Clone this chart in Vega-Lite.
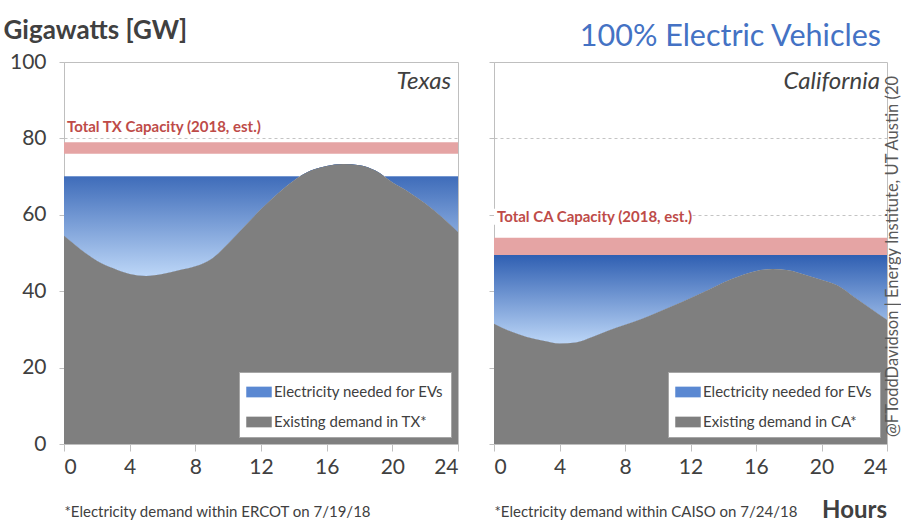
{
  "$schema": "https://vega.github.io/schema/vega-lite/v6.json",
  "background": "white",
  "padding": {"left": 2, "top": 16, "right": 0, "bottom": 0},
  "config": {
    "font": "Lato",
    "view": {"stroke": "#bfbfbf", "strokeWidth": 1},
    "axis": {"domainColor": "#bfbfbf", "tickColor": "#bfbfbf", "labelColor": "#404040", "labelFont": "Lato", "labelFontSize": 21, "titleFont": "Lato", "titleColor": "#404040", "titleFontWeight": "normal"},
    "legend": {"orient": "bottom-right", "offset": 7, "fillColor": "white", "strokeColor": "#a6a6a6", "padding": 7, "labelFontSize": 15, "labelLimit": 400, "labelColor": "#404040", "labelFont": "Lato", "symbolType": "M-1,-0.42H1V0.42H-1Z", "symbolSize": 650, "symbolStrokeWidth": 0, "symbolOpacity": 1, "rowPadding": 9, "labelOffset": 2}
  },
  "datasets": {
    "tx": [
      {"hour": 0, "demand": 54.5, "ev": 70}, {"hour": 1, "demand": 51, "ev": 70}, {"hour": 2, "demand": 48, "ev": 70},
      {"hour": 3, "demand": 46, "ev": 70}, {"hour": 4, "demand": 44.5, "ev": 70}, {"hour": 5, "demand": 44, "ev": 70},
      {"hour": 6, "demand": 44.5, "ev": 70}, {"hour": 7, "demand": 45.5, "ev": 70}, {"hour": 8, "demand": 46.5, "ev": 70},
      {"hour": 9, "demand": 48.5, "ev": 70}, {"hour": 10, "demand": 52.5, "ev": 70}, {"hour": 11, "demand": 57, "ev": 70},
      {"hour": 12, "demand": 61.5, "ev": 70}, {"hour": 13, "demand": 65.5, "ev": 70}, {"hour": 14, "demand": 69, "ev": 70},
      {"hour": 15, "demand": 71.5, "ev": 70}, {"hour": 16, "demand": 72.8, "ev": 70}, {"hour": 17, "demand": 73.3, "ev": 70},
      {"hour": 18, "demand": 73, "ev": 70}, {"hour": 19, "demand": 71.5, "ev": 70}, {"hour": 20, "demand": 68.5, "ev": 70},
      {"hour": 21, "demand": 66, "ev": 70}, {"hour": 22, "demand": 63, "ev": 70}, {"hour": 23, "demand": 59.5, "ev": 70},
      {"hour": 24, "demand": 55.5, "ev": 70}
    ],
    "ca": [
      {"hour": 0, "demand": 31.5, "ev": 49.5}, {"hour": 1, "demand": 29.5, "ev": 49.5}, {"hour": 2, "demand": 28, "ev": 49.5},
      {"hour": 3, "demand": 27, "ev": 49.5}, {"hour": 4, "demand": 26.3, "ev": 49.5}, {"hour": 5, "demand": 26.6, "ev": 49.5},
      {"hour": 6, "demand": 28, "ev": 49.5}, {"hour": 7, "demand": 29.7, "ev": 49.5}, {"hour": 8, "demand": 31.2, "ev": 49.5},
      {"hour": 9, "demand": 32.7, "ev": 49.5}, {"hour": 10, "demand": 34.5, "ev": 49.5}, {"hour": 11, "demand": 36.3, "ev": 49.5},
      {"hour": 12, "demand": 38.2, "ev": 49.5}, {"hour": 13, "demand": 40.2, "ev": 49.5}, {"hour": 14, "demand": 42.3, "ev": 49.5},
      {"hour": 15, "demand": 44, "ev": 49.5}, {"hour": 16, "demand": 45.3, "ev": 49.5}, {"hour": 17, "demand": 45.8, "ev": 49.5},
      {"hour": 18, "demand": 45.5, "ev": 49.5}, {"hour": 19, "demand": 44.3, "ev": 49.5}, {"hour": 20, "demand": 43, "ev": 49.5},
      {"hour": 21, "demand": 41.5, "ev": 49.5}, {"hour": 22, "demand": 38.5, "ev": 49.5}, {"hour": 23, "demand": 35.5, "ev": 49.5},
      {"hour": 24, "demand": 32.5, "ev": 49.5}
    ]
  },
  "spacing": 36,
  "bounds": "flush",
  "resolve": {"scale": {"color": "independent", "x": "independent", "y": "independent"}, "legend": {"color": "independent"}},
  "hconcat": [
    {
      "width": 394,
      "height": 382,
      "layer": [
        {
          "data": {"name": "tx"},
          "mark": {"type": "area", "interpolate": "monotone"},
          "encoding": {
            "x": {"field": "hour", "type": "quantitative", "scale": {"domain": [0, 24], "nice": false},
              "axis": {"values": [0, 2, 4, 6, 8, 10, 12, 14, 16, 18, 20, 22, 24], "labelExpr": "datum.value % 4 === 0 ? datum.label : ''", "grid": false, "tickSize": 7, "labelPadding": 5, "title": "*Electricity demand within ERCOT on 7/19/18", "titleAnchor": "start", "titleAlign": "left", "titleFontSize": 15, "titlePadding": 27}},
            "y": {"field": "ev", "type": "quantitative", "stack": null, "scale": {"domain": [0, 100], "nice": false},
              "axis": {"values": [0, 10, 20, 30, 40, 50, 60, 70, 80, 90, 100], "labelExpr": "datum.value % 20 === 0 ? datum.label : ''", "grid": true, "gridDash": [3, 3], "gridColor": "#c4c4c4", "gridOpacity": {"condition": {"test": "datum.value === 100 || datum.value === 0", "value": 0}, "value": 1}, "tickSize": 5, "labelPadding": 13, "title": "Gigawatts [GW]", "titleAngle": 0, "titleAlign": "left", "titleBaseline": "alphabetic", "titleX": -61, "titleY": -24, "titleFontSize": 26, "titleFontWeight": "bold", "titleColor": "#404040"}},
            "y2": {"field": "demand"},
            "color": {"datum": "Electricity needed for EVs", "type": "nominal",
              "scale": {"domain": ["Electricity needed for EVs", "Existing demand in TX*"], "range": ["#5a88d2", "#7f7f7f"]},
              "legend": {"title": null}}
          }
        },
        {
          "data": {"name": "tx"},
          "mark": {"type": "area", "interpolate": "monotone", "color": {"gradient": "linear", "x1": 0, "y1": 0, "x2": 0, "y2": 1, "stops": [{"offset": 0, "color": "#2f5fb2"}, {"offset": 1, "color": "#bcd6f7"}]}},
          "encoding": {
            "x": {"field": "hour", "type": "quantitative"},
            "y": {"field": "ev", "type": "quantitative", "stack": null},
            "y2": {"field": "demand"}
          }
        },
        {
          "data": {"name": "tx"},
          "mark": {"type": "area", "interpolate": "monotone"},
          "encoding": {
            "x": {"field": "hour", "type": "quantitative"},
            "y": {"field": "demand", "type": "quantitative", "stack": null},
            "color": {"datum": "Existing demand in TX*", "type": "nominal"}
          }
        },
        {
          "data": {"values": [{"start": 0, "end": 24, "lo": 76, "hi": 79}]},
          "mark": {"type": "rect", "color": "#e5a4a4"},
          "encoding": {
            "x": {"field": "start", "type": "quantitative"}, "x2": {"field": "end"},
            "y": {"field": "lo", "type": "quantitative"}, "y2": {"field": "hi"}
          }
        },
        {
          "data": {"values": [{"hour": 0, "gw": 83, "label": "Total TX Capacity (2018, est.)"}]},
          "mark": {"type": "text", "align": "left", "baseline": "middle", "dx": 3, "fontWeight": "bold", "fontSize": 15, "color": "#be4b48"},
          "encoding": {"x": {"field": "hour", "type": "quantitative"}, "y": {"field": "gw", "type": "quantitative"}, "text": {"field": "label"}}
        },
        {
          "data": {"values": [{"hour": 24, "gw": 100, "label": "Texas"}]},
          "mark": {"type": "text", "align": "right", "baseline": "middle", "dx": -7, "dy": 20, "fontStyle": "italic", "fontSize": 24, "color": "#404040"},
          "encoding": {"x": {"field": "hour", "type": "quantitative"}, "y": {"field": "gw", "type": "quantitative"}, "text": {"field": "label"}}
        }
      ]
    },
    {
      "width": 393,
      "height": 382,
      "layer": [
        {
          "data": {"name": "ca"},
          "mark": {"type": "area", "interpolate": "monotone"},
          "encoding": {
            "x": {"field": "hour", "type": "quantitative", "scale": {"domain": [0, 24], "nice": false},
              "axis": {"values": [0, 2, 4, 6, 8, 10, 12, 14, 16, 18, 20, 22, 24], "labelExpr": "datum.value % 4 === 0 ? datum.label : ''", "grid": false, "tickSize": 7, "labelPadding": 5, "title": "*Electricity demand within CAISO on 7/24/18", "titleAnchor": "start", "titleAlign": "left", "titleFontSize": 15, "titlePadding": 27}},
            "y": {"field": "ev", "type": "quantitative", "stack": null, "scale": {"domain": [0, 100], "nice": false},
              "axis": {"values": [0, 10, 20, 30, 40, 50, 60, 70, 80, 90, 100], "labels": false, "grid": true, "gridDash": [3, 3], "gridColor": "#c4c4c4", "gridOpacity": {"condition": {"test": "datum.value === 100 || datum.value === 0", "value": 0}, "value": 1}, "tickSize": 5, "title": null}},
            "y2": {"field": "demand"},
            "color": {"datum": "Electricity needed for EVs", "type": "nominal",
              "scale": {"domain": ["Electricity needed for EVs", "Existing demand in CA*"], "range": ["#5a88d2", "#7f7f7f"]},
              "legend": {"title": null}}
          }
        },
        {
          "data": {"name": "ca"},
          "mark": {"type": "area", "interpolate": "monotone", "color": {"gradient": "linear", "x1": 0, "y1": 0, "x2": 0, "y2": 1, "stops": [{"offset": 0, "color": "#2f5fb2"}, {"offset": 1, "color": "#bcd6f7"}]}},
          "encoding": {
            "x": {"field": "hour", "type": "quantitative"},
            "y": {"field": "ev", "type": "quantitative", "stack": null},
            "y2": {"field": "demand"}
          }
        },
        {
          "data": {"name": "ca"},
          "mark": {"type": "area", "interpolate": "monotone"},
          "encoding": {
            "x": {"field": "hour", "type": "quantitative"},
            "y": {"field": "demand", "type": "quantitative", "stack": null},
            "color": {"datum": "Existing demand in CA*", "type": "nominal"}
          }
        },
        {
          "data": {"values": [{"start": 0, "end": 24, "lo": 49.5, "hi": 54}]},
          "mark": {"type": "rect", "color": "#e5a4a4"},
          "encoding": {
            "x": {"field": "start", "type": "quantitative"}, "x2": {"field": "end"},
            "y": {"field": "lo", "type": "quantitative"}, "y2": {"field": "hi"}
          }
        },
        {
          "data": {"values": [{"start": 0, "end": 12.1, "lo": 57.4, "hi": 61.6}]},
          "mark": {"type": "rect", "color": "white"},
          "encoding": {
            "x": {"field": "start", "type": "quantitative"}, "x2": {"field": "end"},
            "y": {"field": "lo", "type": "quantitative"}, "y2": {"field": "hi"}
          }
        },
        {
          "data": {"values": [{"hour": 0, "gw": 59.4, "label": "Total CA Capacity (2018, est.)"}]},
          "mark": {"type": "text", "align": "left", "baseline": "middle", "dx": 3, "fontWeight": "bold", "fontSize": 15, "color": "#be4b48"},
          "encoding": {"x": {"field": "hour", "type": "quantitative"}, "y": {"field": "gw", "type": "quantitative"}, "text": {"field": "label"}}
        },
        {
          "data": {"values": [{"hour": 24, "gw": 100, "label": "California"}]},
          "mark": {"type": "text", "align": "right", "baseline": "middle", "dx": -7, "dy": 20, "fontStyle": "italic", "fontSize": 24, "color": "#404040"},
          "encoding": {"x": {"field": "hour", "type": "quantitative"}, "y": {"field": "gw", "type": "quantitative"}, "text": {"field": "label"}}
        },
        {
          "data": {"values": [{"hour": 24, "gw": 100, "label": "100% Electric Vehicles"}]},
          "mark": {"type": "text", "align": "right", "baseline": "alphabetic", "dx": -6, "dy": -16, "fontSize": 30.5, "color": "#4472c4"},
          "encoding": {"x": {"field": "hour", "type": "quantitative"}, "y": {"field": "gw", "type": "quantitative"}, "text": {"field": "label"}}
        },
        {
          "data": {"values": [{"hour": 24, "gw": 0, "label": "Hours"}]},
          "mark": {"type": "text", "align": "right", "baseline": "middle", "dy": 67, "fontSize": 24, "fontWeight": "bold", "color": "#404040"},
          "encoding": {"x": {"field": "hour", "type": "quantitative"}, "y": {"field": "gw", "type": "quantitative"}, "text": {"field": "label"}}
        },
        {
          "data": {"values": [{"hour": 24, "gw": 0, "label": "@FToddDavidson | Energy Institute, UT Austin (20"}]},
          "mark": {"type": "text", "align": "left", "baseline": "middle", "angle": 270, "dx": 7, "dy": 6, "fontSize": 16.5, "color": "#595959"},
          "encoding": {"x": {"field": "hour", "type": "quantitative"}, "y": {"field": "gw", "type": "quantitative"}, "text": {"field": "label"}}
        }
      ]
    }
  ]
}
